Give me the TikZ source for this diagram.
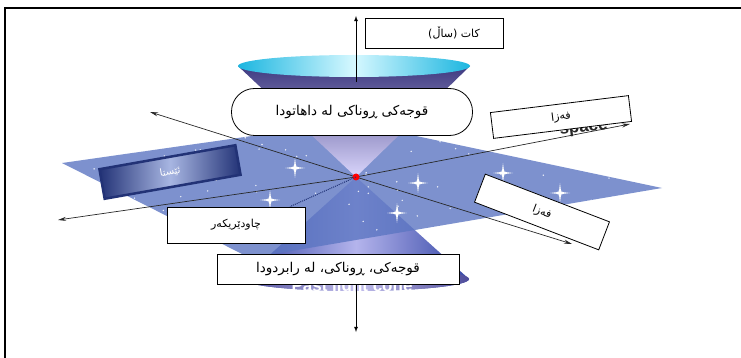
\documentclass[tikz,border=0pt]{standalone}
\usepackage{fontspec}
\setsansfont{Liberation Sans}
\newfontfamily\kurd[Script=Arabic]{DejaVu Sans}
\usetikzlibrary{arrows,arrows.meta,positioning,calc}
\TeXXeTstate=1
\definecolor{planec}{RGB}{92,118,194}
\definecolor{conedark}{RGB}{52,70,166}
\definecolor{conelight}{RGB}{180,180,236}
\definecolor{baseb}{RGB}{78,76,154}
\definecolor{basel}{RGB}{196,192,238}
\definecolor{rimc}{RGB}{62,58,128}
\definecolor{lavc}{RGB}{218,214,252}
\definecolor{cyanc}{RGB}{28,182,224}
\definecolor{cyanl}{RGB}{214,248,255}
\definecolor{navyc}{RGB}{34,50,118}
\definecolor{nowl}{RGB}{168,182,226}
\definecolor{axisc}{RGB}{40,40,40}
\newcommand{\kr}[1]{\beginR #1\endR}
\tikzset{
  txtbox/.style={draw=black, fill=white, line width=0.8pt, inner sep=2pt,
    font=\kurd\fontsize{11}{13}\selectfont},
  bigtxt/.style={font=\kurd\fontsize{13.5}{15}\selectfont},
  nowbox/.style={draw=navyc, line width=2.5pt, left color=navyc, right color=navyc,
    middle color=nowl, text=white, font=\kurd\fontsize{10}{12}\selectfont},
  axisline/.style={draw=axisc, line width=0.7pt, -{Stealth[length=8pt,width=4pt]}},
  timeline/.style={draw=black, line width=0.8pt, -latex},
  englbl/.style={font=\sffamily\bfseries\fontsize{17}{18}\selectfont}
}
\begin{document}
\begin{tikzpicture}[x=1pt,y=-1pt]
\useasboundingbox (0,0) rectangle (741,358);
\draw[line width=2pt] (4,8) -- (741,8);
\draw[line width=1.5pt] (5,8) -- (5,358);

\coordinate (o) at (356,177);
\coordinate (pl) at (62,163);
\coordinate (pb) at (350,122);
\coordinate (pr) at (662,188);
\coordinate (pf) at (250,258);
\coordinate (tup) at (356,16);
\coordinate (ctop) at (356,82);
\coordinate (tdown) at (356,332);
\coordinate (cbot) at (356,284);
\coordinate (ax1a) at (150,112);
\coordinate (ax1b) at (572,244);
\coordinate (ax2a) at (58,220);
\coordinate (ax2b) at (630,124);

\shade[left color=conedark, right color=conedark, middle color=conelight]
  (o) -- (243,279) arc[start angle=180, end angle=0, x radius=113, y radius=12] -- cycle;
\shade[left color=baseb, right color=baseb, middle color=basel] (356,279) ellipse (113 and 12);
\node[englbl, text=white, anchor=base] (pastname) at (352,291) {Past light cone};

\fill[planec, opacity=0.8] (pl) -- (pb) -- (pr) -- (pf) -- cycle;
\begin{scope}
\clip (pl) -- (pb) -- (pr) -- (pf) -- cycle;
\pgfmathsetseed{11}
\foreach \i in {1,...,120}{
  \fill[white, opacity=0.85] (60+600*rnd, 115+150*rnd) circle (0.8pt);
}
\end{scope}
\foreach \sx/\sy in {295/168,418/183,503/173,560/193,397/213,270/200}{
  \fill[white, opacity=0.5] (\sx,\sy) circle (3pt);
  \fill[white] (\sx-10,\sy) -- (\sx,\sy-1.2) -- (\sx+10,\sy) -- (\sx,\sy+1.2) -- cycle;
  \fill[white] (\sx,\sy-10) -- (\sx+1.2,\sy) -- (\sx,\sy+10) -- (\sx-1.2,\sy) -- cycle;
}

\shade[top color=rimc, bottom color=lavc] (238,66) -- (o) -- (470,66) -- cycle;
\shade[left color=cyanc, right color=cyanc, middle color=cyanl] (354,66) ellipse (116 and 11);

\draw[axisline] (o) -- (ax1a);
\draw[axisline] (o) -- (ax1b);
\draw[axisline] (o) -- (ax2a);
\draw[axisline] (o) -- (ax2b);
\draw[timeline] (ctop) -- (tup);
\draw[timeline] (cbot) -- (tdown);
\fill[red] (o) circle (3.5pt);

\node[englbl, text=axisc, rotate=7, anchor=base] (spacename) at (584,132) {space};

\node[txtbox, minimum width=138pt, minimum height=30pt] (timebox) at (434,33) {\hspace*{40pt}\kr{کات (ساڵ)}};
\node[txtbox, bigtxt, rounded corners=23pt, minimum width=241pt, minimum height=47pt] (future) at (352,112) {\kr{قوجەکی ڕوناکی لە داهاتودا}};
\node[txtbox, minimum width=139pt, minimum height=26pt, rotate=7] (space1) at (561,117) {\kr{فەزا}};
\node[txtbox, minimum width=133pt, minimum height=30pt, rotate=-21] (space2) at (542,212) {\kr{فەزا}};
\node[nowbox, minimum width=138pt, minimum height=30pt, rotate=10] (now) at (170,172) {\kr{ئێستا}};
\node[txtbox, minimum width=138pt, minimum height=36pt] (observer) at (236,225) {\kr{چاودێریکەر}};
\draw[navyc, densely dotted, line width=1pt] (o) -- ($(observer.north)+(54,0)$);
\node[txtbox, bigtxt, minimum width=242pt, minimum height=30pt] (past) at (338,269) {\kr{قوجەکی، ڕوناکی، لە رابردودا}};

\end{tikzpicture}
\end{document}
